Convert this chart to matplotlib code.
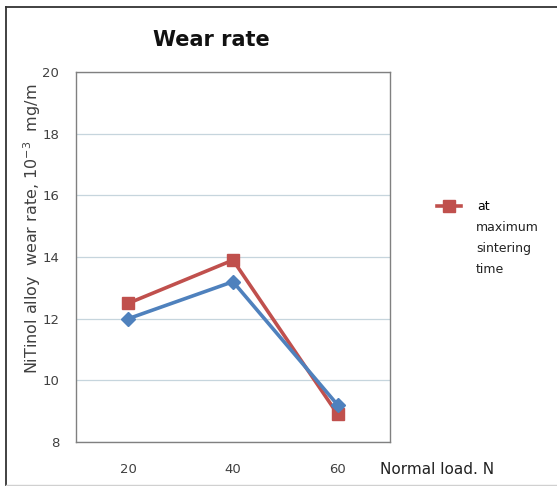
import matplotlib.pyplot as plt
from matplotlib.lines import Line2D

# data
loads = ['20', '40', '60']
wear_max_time = [12.5, 13.9, 8.9]
wear_other = [12.0, 13.2, 9.2]
y_ticks = [8, 10, 12, 14, 16, 18, 20]

red = '#C0504D'
blue = '#4F81BD'

fig = plt.figure(figsize=(5.57, 4.86), dpi=100)
W, H = 557, 486
ax = fig.add_axes([76 / W, 1 - 442 / H, (390 - 76) / W, (442 - 72) / H])

x = range(len(loads))
ax.plot(x, wear_other, color=blue, lw=2.6, marker='D', ms=7, zorder=3)
ax.plot(x, wear_max_time, color=red, lw=2.6, marker='s', ms=9, zorder=2,
        label='at')

ax.set_xlim(-0.5, len(loads) - 0.5)
ax.set_ylim(8, 20)
ax.set_yticks(y_ticks)
ax.set_xticks(list(x))
ax.set_xticklabels(loads)
ax.tick_params(length=0, labelsize=9.5, labelcolor='#404040')
ax.tick_params(axis='y', pad=12)
ax.tick_params(axis='x', pad=15)
ax.yaxis.grid(True, color='#c6d5dd', lw=0.9)
ax.set_axisbelow(True)
for s in ax.spines.values():
    s.set_color('#808080')
    s.set_linewidth(1.0)

fig.text(211 / W, 1 - 40 / H, 'Wear rate', fontsize=15, fontweight='bold',
         ha='center', va='center', color='#111111')
fig.text(32 / W, 1 - 229 / H, 'NiTinol alloy  wear rate, 10$^{-3}$  mg/m',
         rotation=90, ha='center', va='center', fontsize=11.5, color='#404040')
fig.text(380 / W, 1 - 469 / H, 'Normal load. N', ha='left', va='center',
         fontsize=11, color='#222222')

leg = ax.legend(loc='center left', bbox_to_anchor=(437 / W, 1 - 207 / H),
                bbox_transform=fig.transFigure, frameon=False, fontsize=9,
                handlelength=1.9, handletextpad=1.3, borderpad=0, borderaxespad=0)
fig.text(476 / W, 1 - 221 / H, 'maximum\nsintering\ntime', ha='left', va='top',
         fontsize=9, color='#222222', linespacing=1.8)

# outer frame of the picture
fig.add_artist(Line2D([6 / W, 6 / W], [0, 1 - 7 / H], color='#333333', lw=1.3,
                      transform=fig.transFigure))
fig.add_artist(Line2D([6 / W, 1], [1 - 7 / H, 1 - 7 / H], color='#333333', lw=1.3,
                      transform=fig.transFigure))
fig.add_artist(Line2D([6 / W, 1], [1 - 485 / H, 1 - 485 / H], color='#d0d0d0', lw=1.0,
                      transform=fig.transFigure))

fig.savefig('out.png', dpi=100)
